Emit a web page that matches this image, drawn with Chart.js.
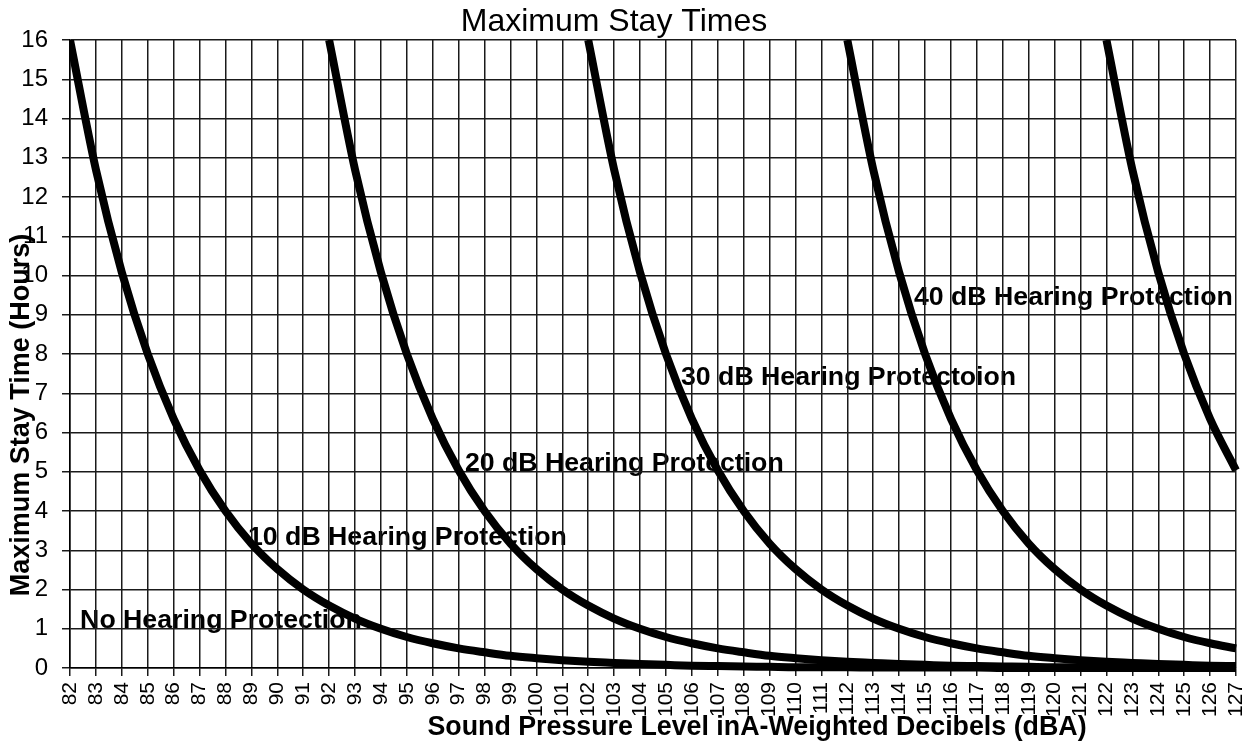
<!DOCTYPE html>
<html>
<head>
<meta charset="utf-8">
<script src="https://cdn.jsdelivr.net/npm/chart.js@4/dist/chart.umd.min.js"></script>
<style>
  html, body { margin: 0; padding: 0; background: #fff; }
</style>
</head>
<body>
<canvas id="grafico" width="1251" height="744"></canvas>
<script>
// niveles de presion sonora (dBA), eje x
const niveles = [82, 83, 84, 85, 86, 87, 88, 89, 90, 91, 92, 93, 94, 95, 96, 97, 98, 99, 100, 101, 102, 103, 104,
  105, 106, 107, 108, 109, 110, 111, 112, 113, 114, 115, 116, 117, 118, 119, 120, 121, 122, 123, 124, 125, 126, 127]

const sinProteccion = [16, 12.7, 10.08, 8, 6.35, 5.04, 4, 3.17, 2.52, 2, 1.59, 1.26, 1, 0.79, 0.63, 0.5, 0.4, 0.31,
  0.25, 0.2, 0.16, 0.13, 0.1, 0.08, 0.06, 0.05, 0.04, 0.03, 0.02, 0.02, 0.02, 0.01, 0.01, 0.01, 0.01, 0.01,
  0, 0, 0, 0, 0, 0, 0, 0, 0, 0]
const proteccion10 = [null, null, null, null, null, null, null, null, null, null,
  16, 12.7, 10.08, 8, 6.35, 5.04, 4, 3.17, 2.52, 2, 1.59, 1.26, 1, 0.79, 0.63, 0.5, 0.4, 0.31,
  0.25, 0.2, 0.16, 0.13, 0.1, 0.08, 0.06, 0.05, 0.04, 0.03, 0.02, 0.02, 0.02, 0.01, 0.01, 0.01, 0.01, 0.01]
const proteccion20 = [null, null, null, null, null, null, null, null, null, null,
  null, null, null, null, null, null, null, null, null, null,
  16, 12.7, 10.08, 8, 6.35, 5.04, 4, 3.17, 2.52, 2, 1.59, 1.26, 1, 0.79, 0.63, 0.5, 0.4, 0.31,
  0.25, 0.2, 0.16, 0.13, 0.1, 0.08, 0.06, 0.05]
const proteccion30 = [null, null, null, null, null, null, null, null, null, null,
  null, null, null, null, null, null, null, null, null, null,
  null, null, null, null, null, null, null, null, null, null,
  16, 12.7, 10.08, 8, 6.35, 5.04, 4, 3.17, 2.52, 2, 1.59, 1.26, 1, 0.79, 0.63, 0.5]
const proteccion40 = [null, null, null, null, null, null, null, null, null, null,
  null, null, null, null, null, null, null, null, null, null,
  null, null, null, null, null, null, null, null, null, null,
  null, null, null, null, null, null, null, null, null, null,
  16, 12.7, 10.08, 8, 6.35, 5.04]

const series = [sinProteccion, proteccion10, proteccion20, proteccion30, proteccion40]
const nombresCurvas = ['No Hearing Protection', '10 dB Hearing Protection', '20 dB Hearing Protection',
  '30 dB Hearing Protectoion', '40 dB Hearing Protection']

// donde va cada rotulo (x en dBA, y en horas)
const anclasRotulos = [[82.39, 1.2], [88.87, 3.31], [97.24, 5.2], [105.58, 7.39], [114.57, 9.43]]

const fuente = '"Liberation Sans", Arial, sans-serif'

const construirPuntos = (valores) => niveles.map((nivel, i) => ({ x: nivel, y: valores[i] }))

const construirDataset = (valores, i) => ({
  label: nombresCurvas[i],
  data: construirPuntos(valores),
  borderColor: '#000',
  borderWidth: 8,
  pointRadius: 0,
  cubicInterpolationMode: 'monotone',
  clip: { left: 0, top: 0, right: 4, bottom: 6 }
})

const textosPlugin = {
  id: 'textos',
  beforeDraw: (chart) => {
    const ctx = chart.ctx
    const x = chart.scales.x
    const y = chart.scales.y
    ctx.save()
    ctx.fillStyle = '#fff'
    ctx.fillRect(0, 0, chart.width, chart.height)
    ctx.fillStyle = '#000'
    ctx.textBaseline = 'middle'
    ctx.textAlign = 'left'
    ctx.font = `bold 26.7px ${fuente}`
    nombresCurvas.forEach((nombre, i) => {
      const [vx, vy] = anclasRotulos[i]
      ctx.fillText(nombre, x.getPixelForValue(vx), y.getPixelForValue(vy))
    })
    ctx.restore()
  },
  afterDraw: (chart) => {
    const ctx = chart.ctx
    ctx.save()
    ctx.fillStyle = '#000'
    ctx.textBaseline = 'middle'
    ctx.textAlign = 'center'
    ctx.font = `32px ${fuente}`
    ctx.fillText('Maximum Stay Times', 614, 22)
    ctx.font = `bold 26.8px ${fuente}`
    ctx.fillText('Sound Pressure Level inA-Weighted Decibels (dBA)', 757, 728)
    ctx.font = `bold 27px ${fuente}`
    ctx.translate(22, 415)
    ctx.rotate(-Math.PI / 2)
    ctx.fillText('Maximum Stay Time (Hours)', 0, 0)
    ctx.restore()
  }
}

new Chart(document.querySelector('#grafico'), {
  type: 'line',
  data: { datasets: series.map(construirDataset) },
  options: {
    responsive: false,
    animation: false,
    layout: { autoPadding: false, padding: { top: 40, right: 15, left: 0, bottom: 0 } },
    plugins: {
      legend: { display: false },
      title: { display: false },
      tooltip: { enabled: false }
    },
    scales: {
      x: {
        type: 'linear',
        min: 82,
        max: 127,
        afterFit: (scale) => {
          scale.height = 76
          scale.paddingLeft = 0
          scale.paddingRight = 0
        },
        border: { color: '#000', width: 1.5 },
        grid: { color: '#1a1a1a', lineWidth: 1.5, tickLength: 8 },
        ticks: {
          stepSize: 1,
          minRotation: 90,
          maxRotation: 90,
          autoSkip: false,
          padding: 6,
          color: '#000',
          font: { family: fuente, size: 21 },
          callback: (v) => v
        }
      },
      y: {
        min: 0,
        max: 16,
        afterFit: (scale) => {
          scale.width = 70
          scale.paddingTop = 0
          scale.paddingBottom = 0
        },
        border: { color: '#000', width: 1.5 },
        grid: { color: '#1a1a1a', lineWidth: 1.5, tickLength: 8 },
        ticks: {
          stepSize: 1,
          padding: 14,
          color: '#000',
          font: { family: fuente, size: 24 }
        }
      }
    }
  },
  plugins: [textosPlugin]
})
</script>
</body>
</html>
